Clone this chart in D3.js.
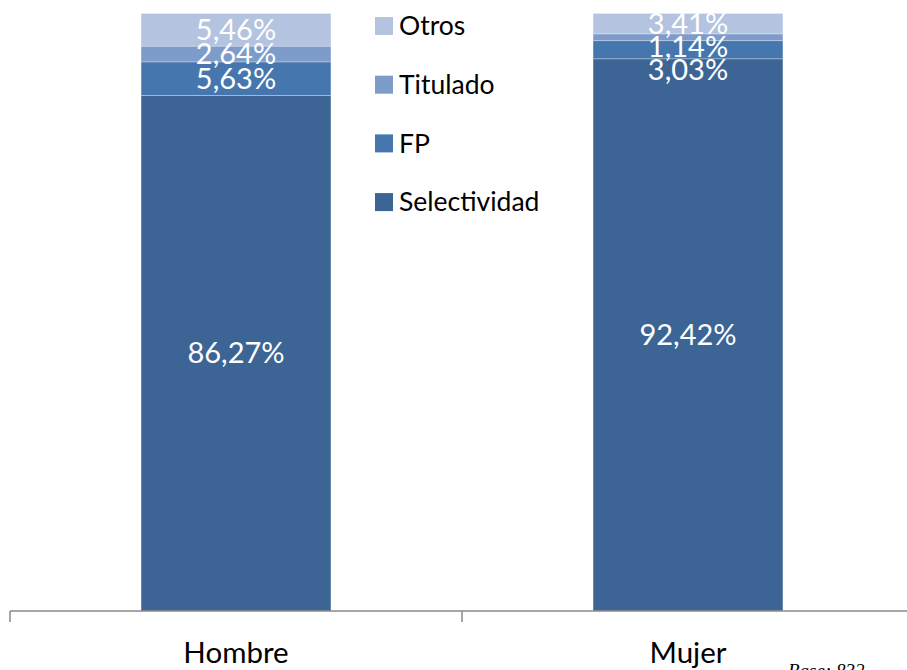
<!DOCTYPE html>
<html><head><meta charset="utf-8">
<script src="https://cdn.jsdelivr.net/npm/d3@7"></script>
<style>body{margin:0;background:#fff}svg{display:block}</style>
</head><body><svg id="c" width="907" height="670"></svg>
<script>
const categories = ["Hombre", "Mujer"];
const seriesNames = ["Selectividad", "FP", "Titulado", "Otros"];
const selectividad = [86.27, 92.42];
const fp = [5.63, 3.03];
const titulado = [2.64, 1.14];
const otros = [5.46, 3.41];
const baseNote = "Base: 832";
const colors = ["#3C6596", "#4676AE", "#7E9CCA", "#B4C4E0"];

const svg = d3.select("#c");
const font = "Lato, 'Open Sans', sans-serif";
const x = d3.scaleBand().domain(categories).range([10, 914]).padding(0);
const y = d3.scaleLinear().domain([0, 100]).range([611, 13.5]);
const barW = x.bandwidth() * 0.42;

const rows = categories.map((c, i) => ({cat: c, Selectividad: selectividad[i], FP: fp[i], Titulado: titulado[i], Otros: otros[i]}));
const stack = d3.stack().keys(seriesNames)(rows);

const g = svg.append("g");
stack.forEach((layer, k) => {
  g.selectAll(null).data(layer).enter().append("rect")
    .attr("x", d => x(d.data.cat) + x.bandwidth()/2 - barW/2)
    .attr("width", barW)
    .attr("y", d => y(d[1]))
    .attr("height", d => y(d[0]) - y(d[1]))
    .attr("fill", colors[k])
    .attr("stroke", "rgba(255,255,255,0.35)")
    .attr("stroke-width", 0.8);
});

// labels: placed at segment centers, top-down with minimum gap
const fmt = v => d3.format(".2f")(v).replace(".", ",") + "%";
categories.forEach((c, i) => {
  const labs = [];
  for (let k = seriesNames.length - 1; k >= 0; k--) {
    const d = stack[k][i];
    labs.push({v: d[1] - d[0], cy: (y(d[0]) + y(d[1])) / 2});
  }
  let prev = -Infinity;
  const gap = 23;
  labs.forEach(l => {
    if (l.v < 20) { l.py = Math.max(l.cy, prev + gap); prev = l.py; }
    else l.py = l.cy;
  });
  labs.forEach(l => {
    svg.append("text")
      .attr("x", x(c) + x.bandwidth()/2)
      .attr("y", l.py)
      .attr("dy", "0.35em")
      .attr("text-anchor", "middle")
      .attr("fill", "#fff")
      .attr("font-family", font)
      .attr("font-size", 29)
      .text(fmt(l.v));
  });
});

// axis
const axisY = y(0);
svg.append("line").attr("x1", 10).attr("x2", 907).attr("y1", axisY).attr("y2", axisY)
  .attr("stroke", "#888").attr("stroke-width", 1.5);
const tickXs = [x(categories[0]), x(categories[1])];
tickXs.forEach(tx => svg.append("line").attr("x1", tx).attr("x2", tx).attr("y1", axisY).attr("y2", axisY + 11)
  .attr("stroke", "#888").attr("stroke-width", 1.5));
categories.forEach(c => svg.append("text")
  .attr("x", x(c) + x.bandwidth()/2).attr("y", 663)
  .attr("text-anchor", "middle").attr("fill", "#000")
  .attr("font-family", font).attr("font-size", 29.5).text(c));

// legend
const legendNames = seriesNames.slice().reverse();
const legendColors = colors.slice().reverse();
legendNames.forEach((n, i) => {
  const ly = 26 + i * 58.7;
  svg.append("rect").attr("x", 375).attr("y", ly - 9).attr("width", 18).attr("height", 18).attr("fill", legendColors[i]);
  svg.append("text").attr("x", 399).attr("y", ly).attr("dy", "0.35em")
    .attr("font-family", font).attr("font-size", 26.5).attr("fill", "#000").text(n);
});

svg.append("text").attr("x", 788).attr("y", 677)
  .attr("font-family", "'Liberation Serif', serif").attr("font-style", "italic")
  .attr("font-size", 19).attr("fill", "#000").text(baseNote);
</script></body></html>
